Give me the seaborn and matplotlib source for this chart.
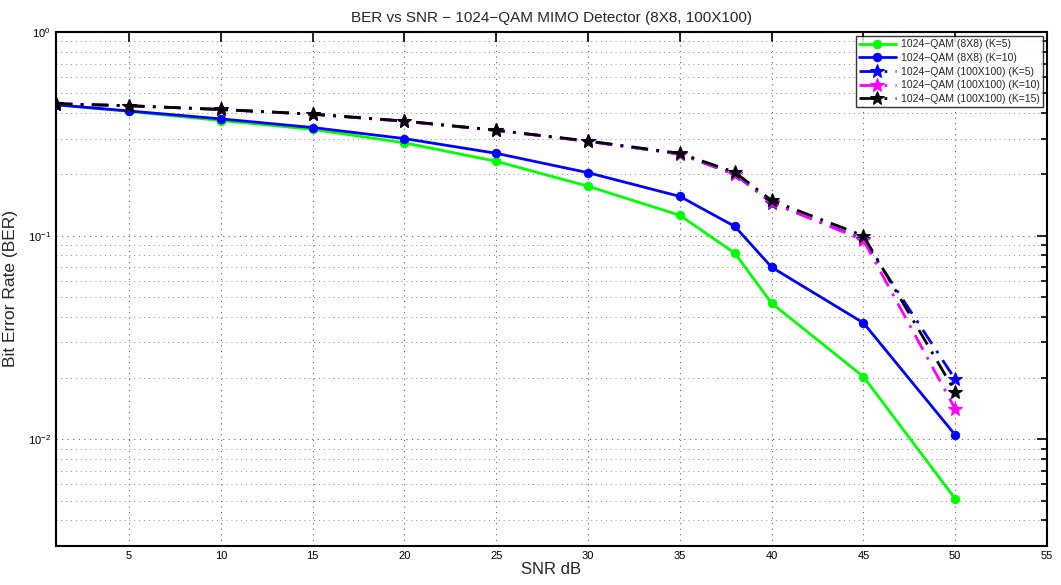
import numpy as np
import pandas as pd
import matplotlib
matplotlib.use("Agg")
import matplotlib.pyplot as plt
import seaborn as sns
from matplotlib.ticker import LogLocator, NullFormatter, FixedLocator

snr = [1, 5, 10, 15, 20, 25, 30, 35, 38, 40, 45, 50]
ber_8x8_k5 = [0.44, 0.408, 0.368, 0.333, 0.286, 0.232, 0.175, 0.126, 0.082, 0.0466, 0.0203, 0.0051]
ber_8x8_k10 = [0.44, 0.41, 0.375, 0.340, 0.300, 0.254, 0.204, 0.156, 0.111, 0.070, 0.0373, 0.0105]
ber_100_k5 = [0.445, 0.435, 0.417, 0.395, 0.365, 0.329, 0.291, 0.252, 0.200, 0.145, 0.096, 0.0197]
ber_100_k10 = [0.445, 0.435, 0.417, 0.395, 0.365, 0.329, 0.291, 0.252, 0.201, 0.146, 0.095, 0.0141]
ber_100_k15 = [0.445, 0.435, 0.417, 0.396, 0.366, 0.330, 0.292, 0.254, 0.205, 0.149, 0.100, 0.0171]

labels = ["1024\u2212QAM (8X8) (K=5)", "1024\u2212QAM (8X8) (K=10)",
          "1024\u2212QAM (100X100) (K=5)", "1024\u2212QAM (100X100) (K=10)",
          "1024\u2212QAM (100X100) (K=15)"]
series = [ber_8x8_k5, ber_8x8_k10, ber_100_k5, ber_100_k10, ber_100_k15]
colors = ["#00ff00", "#0000ff", "#0000ff", "#ff00ff", "#000000"]
markers = ["o", "o", "*", "*", "*"]
styles = ["-", "-", (0, (6, 3, 1, 3)), (0, (6, 3, 1, 3)), (0, (6, 3, 1, 3))]
msizes = [6, 6, 10, 10, 10]

sns.set_style("white")
plt.rcParams['font.family'] = ['Liberation Sans', 'DejaVu Sans']

fig = plt.figure(figsize=(10.61, 5.85), dpi=100)
ax = fig.add_axes([0.0525, 0.0672, 0.9343, 0.8778])

for lab, y, c, m, ls, ms in zip(labels, series, colors, markers, styles, msizes):
    sns.lineplot(x=snr, y=y, ax=ax, color=c, marker=m, linestyle=ls, linewidth=2,
                 markersize=ms, markeredgecolor=c, markerfacecolor=c, label=lab)

ax.set_yscale("log")
ax.set_xlim(1, 55)
ax.set_ylim(3e-3, 1)
ax.xaxis.set_major_locator(FixedLocator(list(range(5, 56, 5))))
ax.yaxis.set_major_locator(LogLocator(base=10, numticks=10))
ax.yaxis.set_minor_locator(LogLocator(base=10, subs=np.arange(2, 10), numticks=20))
ax.yaxis.set_minor_formatter(NullFormatter())

ax.grid(True, which="major", axis="both", linestyle=(0, (1, 4)), color="#666666", linewidth=0.8)
ax.grid(True, which="minor", axis="y", linestyle=(0, (1, 4)), color="#888888", linewidth=0.7)
ax.tick_params(which="both", direction="in", top=True, right=True, labelsize=8, colors="black", width=1.2)
ax.tick_params(which="major", length=7)
ax.tick_params(which="minor", length=4)
for s in ax.spines.values():
    s.set_color("black")
    s.set_linewidth(1.5)

ax.set_title("BER vs SNR \u2212 1024\u2212QAM MIMO Detector (8X8, 100X100)", fontsize=11, pad=7)
ax.set_xlabel("SNR dB", fontsize=12, labelpad=1)
ax.set_ylabel("Bit Error Rate (BER)", fontsize=12.5)
ax.yaxis.set_label_coords(-0.038, 0.5)

leg = ax.legend(loc="upper right", fontsize=7.5, frameon=True, fancybox=False, borderaxespad=0.4,
                handlelength=3.5, labelspacing=0.35, borderpad=0.3, handletextpad=0.5)
leg.get_frame().set_edgecolor("black")
leg.get_frame().set_linewidth(1.0)

fig.savefig("out.png", dpi=100)
